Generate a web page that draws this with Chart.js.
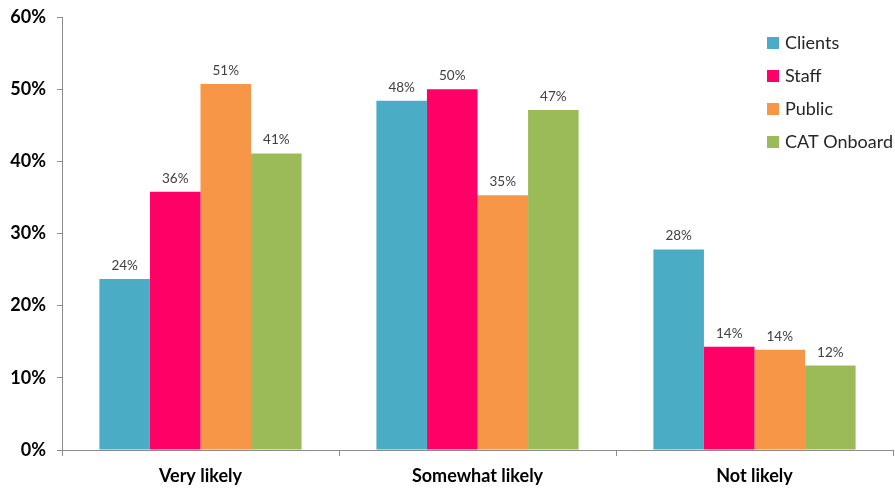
<!DOCTYPE html>
<html>
<head>
<meta charset="utf-8">
<script src="https://cdn.jsdelivr.net/npm/chart.js@4"></script>
<style>
html,body{margin:0;padding:0;background:#fff;}
#wrap{width:895px;height:488px;position:relative;}
</style>
</head>
<body>
<div id="wrap"><canvas id="c" width="895" height="488"></canvas></div>
<script>
const categories = ["Very likely", "Somewhat likely", "Not likely"];
const seriesNames = ["Clients", "Staff", "Public", "CAT Onboard"];
const clients = [23.7, 48.4, 27.8];
const staff = [35.8, 50.0, 14.3];
const publicVals = [50.7, 35.3, 13.9];
const catOnboard = [41.1, 47.1, 11.7];
const labelClients = ["24%", "48%", "28%"];
const labelStaff = ["36%", "50%", "14%"];
const labelPublic = ["51%", "35%", "14%"];
const labelCat = ["41%", "47%", "12%"];
const yTicks = [0, 10, 20, 30, 40, 50, 60];

const colors = ["#4BACC6", "#FF0066", "#F79646", "#9BBB59"];
const allValues = [clients, staff, publicVals, catOnboard];
const allLabels = [labelClients, labelStaff, labelPublic, labelCat];

const FONT = "Lato, 'Open Sans', sans-serif";

const dataLabelPlugin = {
  id: 'dataLabels',
  afterDatasetsDraw(chart) {
    const ctx = chart.ctx;
    ctx.save();
    ctx.font = "13.5px " + FONT;
    ctx.fillStyle = "#404040";
    ctx.textAlign = "center";
    ctx.textBaseline = "alphabetic";
    chart.data.datasets.forEach((ds, i) => {
      const meta = chart.getDatasetMeta(i);
      meta.data.forEach((bar, j) => {
        ctx.fillText(allLabels[i][j], bar.x, bar.y - 9);
      });
    });
    ctx.restore();
  }
};

const legendPlugin = {
  id: 'customLegend',
  afterDraw(chart) {
    const ctx = chart.ctx;
    ctx.save();
    ctx.font = "18px " + FONT;
    ctx.textBaseline = "middle";
    ctx.textAlign = "left";
    seriesNames.forEach((name, i) => {
      const y = 43 + i * 33;
      ctx.fillStyle = colors[i];
      ctx.fillRect(767, y - 6, 12, 12);
      ctx.fillStyle = "#262626";
      ctx.fillText(name, 785, y);
    });
    ctx.restore();
  }
};

new Chart(document.getElementById('c'), {
  type: 'bar',
  data: {
    labels: categories,
    datasets: seriesNames.map((n, i) => ({
      label: n,
      data: allValues[i],
      backgroundColor: colors[i],
      borderWidth: 0,
      barPercentage: 1.0,
      categoryPercentage: 0.73
    }))
  },
  options: {
    responsive: false,
    animation: false,
    devicePixelRatio: 1,
    layout: { padding: { top: 17, right: 2, left: 0, bottom: 0 } },
    plugins: {
      legend: { display: false },
      tooltip: { enabled: false }
    },
    scales: {
      x: {
        grid: {
          offset: true,
          drawOnChartArea: false,
          drawTicks: true,
          tickLength: 6,
          color: "#8c8c8c"
        },
        border: { color: "#8c8c8c", width: 1 },
        ticks: {
          color: "#000",
          font: { family: FONT, size: 18, weight: 'bold' },
          padding: 9
        },
        afterFit(scale) { scale.height = 38; }
      },
      y: {
        min: 0,
        max: 60,
        afterBuildTicks(scale) { scale.ticks = yTicks.map(v => ({ value: v })); },
        grid: {
          drawOnChartArea: false,
          drawTicks: true,
          tickLength: 5,
          color: "#8c8c8c"
        },
        border: { color: "#8c8c8c", width: 1 },
        ticks: {
          color: "#000",
          font: { family: FONT, size: 18, weight: 'bold' },
          padding: 11,
          callback: (v) => v + "%"
        },
        afterFit(scale) { scale.width = 62; scale.paddingTop = 0; scale.paddingBottom = 0; }
      }
    }
  },
  plugins: [dataLabelPlugin, legendPlugin]
});
</script>
</body>
</html>
